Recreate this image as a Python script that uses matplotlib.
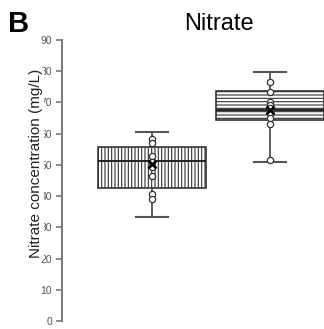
import matplotlib
matplotlib.use('Agg')
import matplotlib.pyplot as plt

plt.rcParams['font.family'] = ['Liberation Sans', 'DejaVu Sans']
plt.rcParams['hatch.linewidth'] = 0.8
plt.rcParams['hatch.color'] = '#555555'

# box summary values (mg/L)
groups = ['Group 1', 'Group 2']
q1 = [42.5, 64.3]
med = [51.2, 67.7]
q3 = [55.6, 73.8]
whislo = [33.3, 51.0]
whishi = [60.4, 79.9]
means = [50.2, 67.6]
hatches = ['|||||', '-----']

# individual samples
pts1 = [58.2, 57.0, 53.0, 51.0, 49.2, 46.5, 40.7, 39.2]
pts2 = [76.6, 73.5, 70.2, 69.2, 68.1, 66.5, 64.9, 63.0, 51.6]

yticks = list(range(0, 100, 10))

fig = plt.figure(figsize=(3.24, 3.29), dpi=100)
ax = fig.add_axes([62/324, 8/329, 262/324, 281/329])

stats = []
for i in range(len(groups)):
    stats.append(dict(label=groups[i], q1=q1[i], med=med[i], q3=q3[i],
                      whislo=whislo[i], whishi=whishi[i], mean=means[i]))

bp = ax.bxp(stats, positions=[1, 2], widths=0.915, patch_artist=True,
            showfliers=False, showmeans=False,
            boxprops=dict(facecolor='white', edgecolor='#333333', lw=1.2),
            medianprops=dict(color='#222222', lw=1.4),
            whiskerprops=dict(color='#444444', lw=1.2),
            capprops=dict(color='#555555', lw=1.5), capwidths=0.27)
for patch, h in zip(bp['boxes'], hatches):
    patch.set_hatch(h)

for x, pts in zip([1, 2], [pts1, pts2]):
    ax.plot([x]*len(pts), pts, 'o', mfc='white', mec='#333333', ms=4.5, mew=0.9, zorder=4)
ax.plot([1, 2], means, 'x', color='black', ms=6, mew=1.8, zorder=5)

ax.set_xlim(0.237, 2.46)
ax.set_ylim(0, 90)
ax.set_yticks(yticks)
ax.set_yticklabels([str(v) for v in yticks])
ax.tick_params(axis='y', length=4, width=1.2, color='#777777', labelsize=7.5,
               labelcolor='#555555', pad=3)
ax.set_xticks([])
for s in ['top', 'right', 'bottom']:
    ax.spines[s].set_visible(False)
ax.spines['left'].set_color('#777777')
ax.spines['left'].set_linewidth(1.4)

# label box covers the left part of the tick numbers, as in the original
ax.set_ylabel('Nitrate concentration (mg/L)', fontsize=11, color='#222222',
              bbox=dict(facecolor='white', edgecolor='none', pad=1))
ax.yaxis.set_label_coords(-19/262, 0.56)

fig.text(219/324, 1 - 24/329, 'Nitrate', fontsize=17, ha='center', va='center')
fig.text(8/324, 1 - 24/329, 'B', fontsize=21, fontweight='bold', ha='left', va='center')

fig.savefig('out.png', dpi=100)
